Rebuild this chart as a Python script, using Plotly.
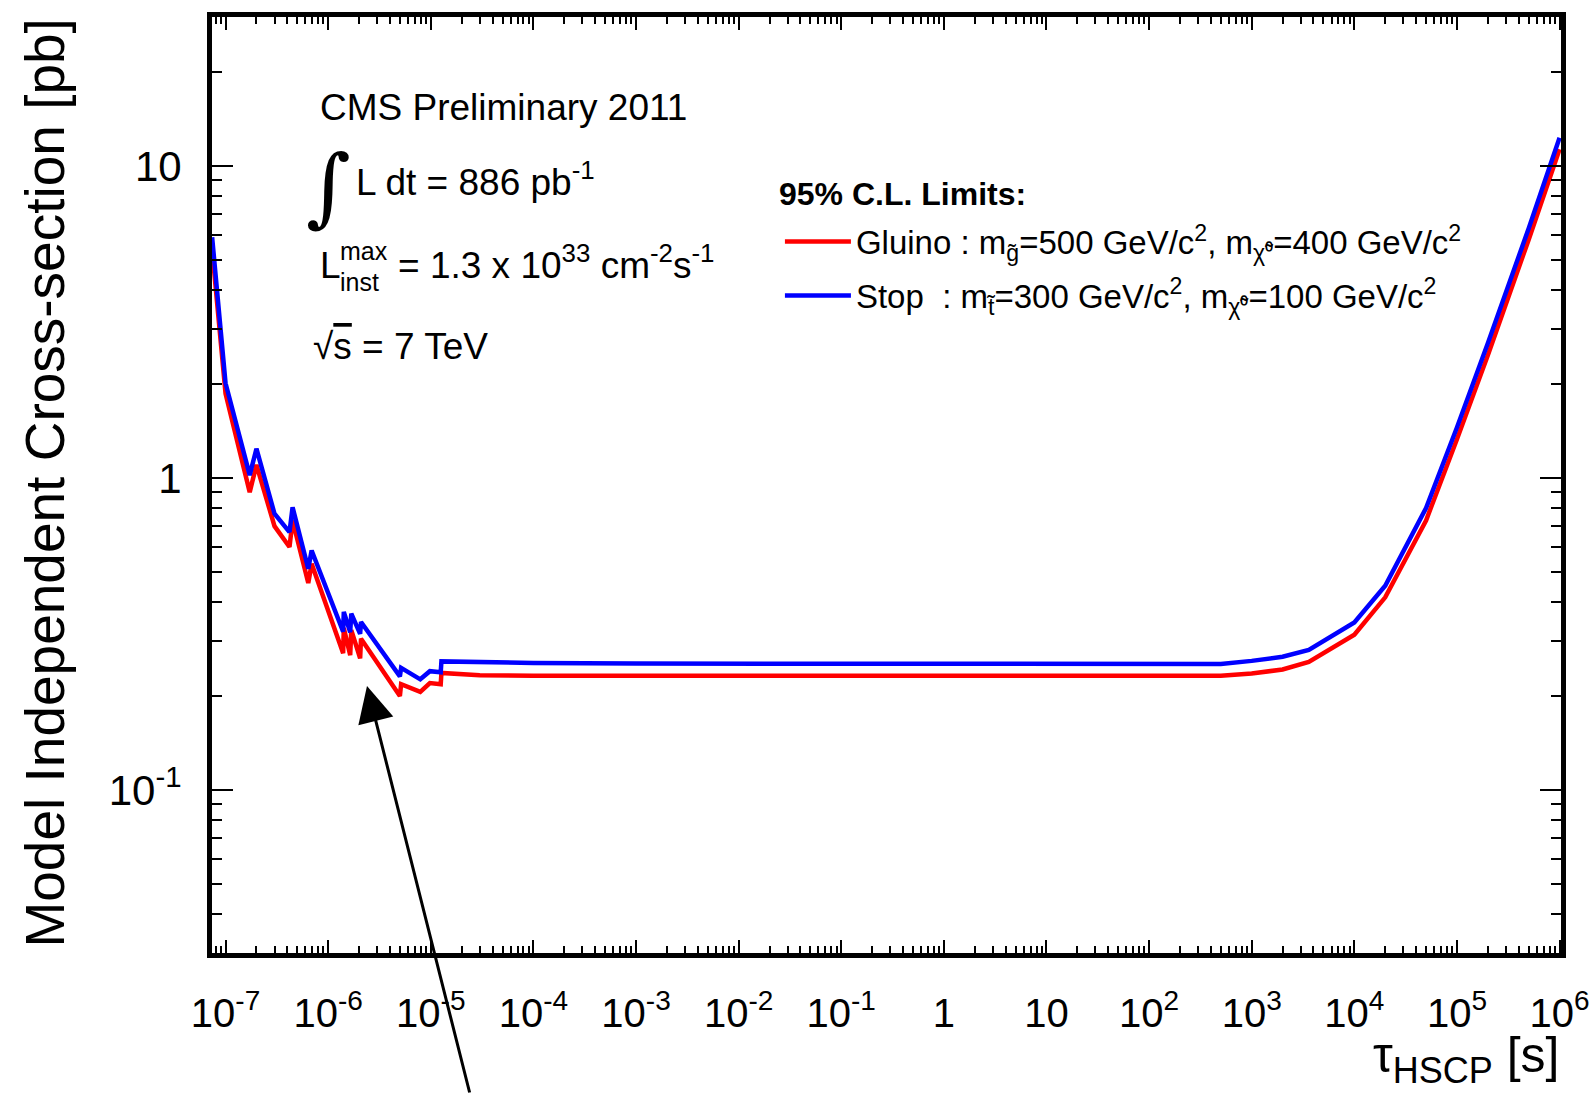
import plotly.graph_objects as go

# ---- data ----
tau = [7.4e-8, 1.0e-7, 1.72e-7, 2.0e-7, 3.0e-7, 4.2e-7, 4.5e-7, 6.4e-7, 6.9e-7,
       1.40e-6, 1.42e-6, 1.64e-6, 1.68e-6, 2.05e-6, 2.09e-6, 5.0e-6, 5.14e-6,
       7.9e-6, 9.8e-6, 1.25e-5, 1.27e-5, 3e-5, 1e-4, 1e-3, 1e-2, 1e-1, 1.0,
       10.0, 100.0, 500.0, 1000.0, 2000.0, 3600.0, 1e4, 2e4, 5e4, 1e5, 2e5, 5e5, 1e6]

xsec_stop = [5.9, 2.01, 1.02, 1.24, 0.767, 0.670, 0.805, 0.511, 0.585,
             0.321, 0.372, 0.320, 0.367, 0.316, 0.345, 0.231, 0.246,
             0.226, 0.240, 0.238, 0.258, 0.256, 0.255, 0.254, 0.254, 0.254, 0.254,
             0.254, 0.253, 0.253, 0.259, 0.267, 0.281, 0.344, 0.451, 0.80, 1.45, 2.7, 6.3, 12.3]

xsec_gluino = [5.4, 1.86, 0.90, 1.10, 0.70, 0.60, 0.73, 0.46, 0.53,
               0.274, 0.33, 0.27, 0.325, 0.264, 0.305, 0.200, 0.218,
               0.206, 0.220, 0.218, 0.237, 0.233, 0.232, 0.232, 0.232, 0.232, 0.232,
               0.232, 0.232, 0.232, 0.236, 0.243, 0.257, 0.314, 0.414, 0.73, 1.33, 2.47, 5.8, 11.3]

name_gluino = "Gluino : m<sub>g\u0303</sub>=500 GeV/c<sup>2</sup>, m<sub>\u03c7\u0303\u2070</sub>=400 GeV/c<sup>2</sup>"
name_stop = "Stop\u00a0\u00a0: m<sub>t\u0303</sub>=300 GeV/c<sup>2</sup>, m<sub>\u03c7\u0303\u2070</sub>=100 GeV/c<sup>2</sup>"
legend_title = "<b>95% C.L. Limits:</b>"

x_tickvals = [1e-7, 1e-6, 1e-5, 1e-4, 1e-3, 1e-2, 1e-1, 1, 10, 1e2, 1e3, 1e4, 1e5, 1e6]
x_ticktext = ["10<sup>-7</sup>", "10<sup>-6</sup>", "10<sup>-5</sup>", "10<sup>-4</sup>",
              "10<sup>-3</sup>", "10<sup>-2</sup>", "10<sup>-1</sup>", "1", "10",
              "10<sup>2</sup>", "10<sup>3</sup>", "10<sup>4</sup>", "10<sup>5</sup>", "10<sup>6</sup>"]
y_tickvals = [0.1, 1, 10]
y_ticktext = ["10<sup>-1</sup>", "1", "10"]

x_minor = [m * 10.0 ** e for e in range(-8, 6) for m in range(2, 10)]
y_minor = [m * 10.0 ** e for e in range(-2, 2) for m in range(2, 10)]

FONT = "Liberation Sans, Arial, Helvetica, sans-serif"

fig = go.Figure()
fig.add_trace(go.Scatter(x=tau, y=xsec_gluino, mode="lines", name=name_gluino,
                         legendgroup="g", line=dict(color="#ff0000", width=4.5)))
fig.add_trace(go.Scatter(x=tau, y=xsec_stop, mode="lines", name=name_stop,
                         legendgroup="s", line=dict(color="#0000ff", width=4.5)))

axis_common = dict(showline=True, linewidth=5, linecolor="black", mirror="allticks",
                   ticks="inside", tickwidth=2, tickcolor="black", showgrid=False,
                   zeroline=False, tickmode="array", type="log", automargin=False)

fig.update_xaxes(**axis_common, range=[-7.132, 6.014], tickvals=x_tickvals, ticktext=x_ticktext,
                 ticklen=13, tickfont=dict(family=FONT, size=40, color="black"),
                 ticklabelstandoff=21,
                 minor=dict(ticks="inside", ticklen=7, tickwidth=2, tickcolor="black",
                            tickvals=x_minor, showgrid=False))
fig.update_yaxes(**axis_common, range=[-1.523, 1.477], tickvals=y_tickvals, ticktext=y_ticktext,
                 ticklen=21, tickfont=dict(family=FONT, size=42, color="black"),
                 ticklabelstandoff=17,
                 minor=dict(ticks="inside", ticklen=10, tickwidth=2, tickcolor="black",
                            tickvals=y_minor, showgrid=False))

ann = []
txt = dict(family=FONT, color="black")
ann.append(dict(text="CMS Preliminary 2011", x=0.0786, y=0.9028, xref="paper", yref="paper",
                xanchor="left", yanchor="middle", showarrow=False, font=dict(**txt, size=37)))
ann.append(dict(text="\u222b", x=0.068, y=0.819, xref="paper", yref="paper",
                xanchor="left", yanchor="middle", showarrow=False,
                font=dict(family="DejaVu Serif", color="black", size=86)))
ann.append(dict(text="L dt = 886 pb<sup>-1</sup>", x=0.1053, y=0.826, xref="paper", yref="paper",
                xanchor="left", yanchor="middle", showarrow=False, font=dict(**txt, size=37)))
ann.append(dict(text="L", x=0.0786, y=0.734, xref="paper", yref="paper",
                xanchor="left", yanchor="middle", showarrow=False, font=dict(**txt, size=37)))
ann.append(dict(text="max", x=0.0934, y=0.750, xref="paper", yref="paper",
                xanchor="left", yanchor="middle", showarrow=False, font=dict(**txt, size=25)))
ann.append(dict(text="inst", x=0.0934, y=0.717, xref="paper", yref="paper",
                xanchor="left", yanchor="middle", showarrow=False, font=dict(**txt, size=25)))
ann.append(dict(text="= 1.3 x 10<sup>33</sup> cm<sup>-2</sup>s<sup>-1</sup>", x=0.1365, y=0.738,
                xref="paper", yref="paper", xanchor="left", yanchor="middle", showarrow=False,
                font=dict(**txt, size=37)))
ann.append(dict(text="\u221a<span style='text-decoration:overline'>s</span> = 7 TeV", x=0.0734, y=0.648,
                xref="paper", yref="paper", xanchor="left", yanchor="middle", showarrow=False,
                font=dict(**txt, size=37)))
# legend title
ann.append(dict(text=legend_title, x=0.4185, y=0.8113, xref="paper", yref="paper",
                xanchor="left", yanchor="middle", showarrow=False, font=dict(**txt, size=32)))
# axis titles
ann.append(dict(text="Model Independent Cross-section [pb]", x=-0.1245, y=1.0, xref="paper",
                yref="paper", xanchor="center", yanchor="top", textangle=-90, showarrow=False,
                font=dict(**txt, size=55)))
ann.append(dict(text="\u03c4<sub><span style='font-size:36px'>HSCP</span></sub> [s]", x=1.0, y=-0.1135,
                xref="paper", yref="paper", xanchor="right", yanchor="middle", showarrow=False,
                font=dict(**txt, size=50)))
# arrow
ann.append(dict(text="", x=0.1149, y=0.2853, xref="paper", yref="paper", showarrow=True,
                ax=103, ay=410, arrowhead=2, arrowsize=2.4, arrowwidth=3, arrowcolor="black"))

fig.update_layout(
    width=1593, height=1094,
    margin=dict(l=212, r=32, t=17, b=141),
    paper_bgcolor="white", plot_bgcolor="white",
    annotations=ann,
    showlegend=True,
    legend=dict(x=0.421, y=0.79, xanchor="left", yanchor="top", bgcolor="rgba(0,0,0,0)",
                borderwidth=0, font=dict(family=FONT, size=33, color="black"),
                tracegroupgap=8, itemwidth=66),
)

fig.write_html("out.html")
